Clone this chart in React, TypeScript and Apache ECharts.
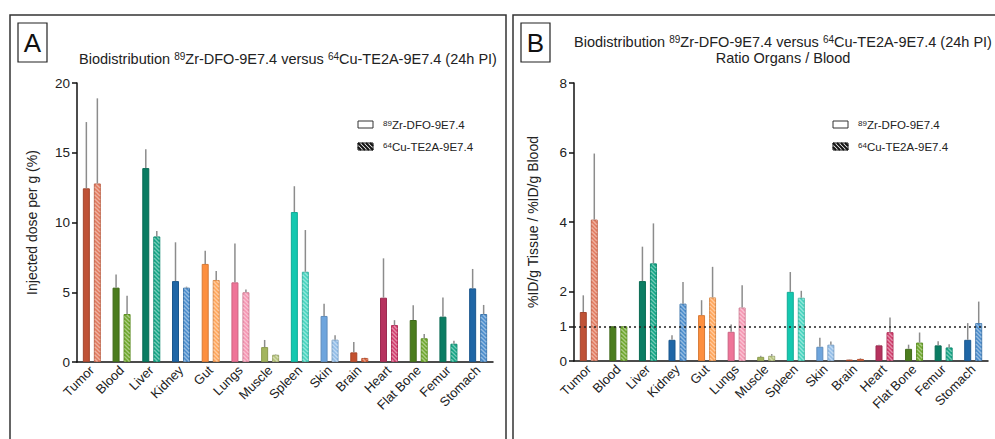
import React, { useEffect, useRef } from "react";
import * as echarts from "echarts";

const categories = ["Tumor", "Blood", "Liver", "Kidney", "Gut", "Lungs", "Muscle", "Spleen", "Skin", "Brain", "Heart", "Flat Bone", "Femur", "Stomach"];

// Panel A: injected dose per g (%)
const zrDose = [12.45, 5.33, 13.9, 5.8, 7.03, 5.71, 1.07, 10.75, 3.3, 0.69, 4.61, 3.01, 3.25, 5.28];
const zrDoseSd = [4.75, 0.95, 1.35, 2.78, 0.95, 2.79, 0.51, 1.85, 0.88, 0.74, 2.82, 1.05, 1.38, 1.39];
const cuDose = [12.8, 3.44, 9.0, 5.33, 5.88, 5.0, 0.52, 6.47, 1.6, 0.29, 2.65, 1.7, 1.31, 3.44];
const cuDoseSd = [6.1, 1.31, 0.39, 0.07, 0.64, 0.2, 0.03, 2.99, 0.31, 0.02, 0.35, 0.3, 0.22, 0.65];

// Panel B: ratio organs / blood
const zrRatio = [1.41, 1.0, 2.3, 0.61, 1.32, 0.84, 0.12, 1.99, 0.41, 0.04, 0.45, 0.35, 0.45, 0.61];
const zrRatioSd = [0.48, 0, 0.99, 0.13, 0.43, 0.21, 0.03, 0.57, 0.26, 0.01, 0.02, 0.12, 0.12, 0.48];
const cuRatio = [4.07, 1.0, 2.81, 1.65, 1.83, 1.54, 0.15, 1.82, 0.47, 0.06, 0.83, 0.53, 0.39, 1.09];
const cuRatioSd = [1.9, 0, 1.15, 0.62, 0.88, 0.64, 0.05, 0.2, 0.09, 0.02, 0.42, 0.29, 0.09, 0.62];

const yTicksA = [0, 5, 10, 15, 20];
const yTicksB = [0, 1, 2, 4, 6, 8];
const referenceRatio = 1;

const zrColors = ["#bf5236", "#4b7d1e", "#0b7d63", "#1f66a6", "#fd8f3f", "#ef7498", "#a3b55e", "#14c8b0", "#6ea5dd", "#c4512f", "#b6325e", "#4b7d1e", "#0b7d63", "#1f66a6"];
const cuColors = ["#e27a5e", "#6fa82d", "#14a585", "#4a8ccc", "#ffa55a", "#f596b2", "#b5c37a", "#45d4bf", "#92bde8", "#d8603a", "#d13d6d", "#6fa82d", "#14a585", "#4a8ccc"];

const FONT = '"Liberation Sans", Arial, sans-serif';
const TXT = "#222";
const BAR_W = 7;
const BAR_GAP = 4;
const STRIPE_STEP = 4;

function darken(hex: string, f: number) {
  const n = parseInt(hex.slice(1), 16);
  const r = Math.round(((n >> 16) & 255) * f);
  const g = Math.round(((n >> 8) & 255) * f);
  const b = Math.round((n & 255) * f);
  return `rgb(${r},${g},${b})`;
}

const TITLE_MAIN = "Biodistribution {s|89}Zr-DFO-9E7.4 versus {s|64}Cu-TE2A-9E7.4 (24h PI)";
const supRich = {
  s: { fontSize: 10, fontFamily: FONT, color: TXT, verticalAlign: "top", lineHeight: 13 },
};

export default function App() {
  const ref = useRef<HTMLDivElement>(null);
  useEffect(() => {
    if (!ref.current) return;
    const chart = echarts.init(ref.current, undefined, { renderer: "svg" });

    const barData = (vals: number[], colors: string[]) =>
      vals.map((v, i) => ({
        value: v,
        itemStyle: {
          color: colors[i],
          borderColor: darken(colors[i], 0.85),
          borderWidth: 1,
        },
      }));

    const errSeries = (vals: number[], sds: number[], axis: number, offset: number) => ({
      type: "custom",
      xAxisIndex: axis,
      yAxisIndex: axis,
      z: 5,
      silent: true,
      data: vals.map((v, i) => [i, v, sds[i]]),
      encode: { x: 0, y: 1 },
      renderItem: (params: any, api: any) => {
        const i = api.value(0);
        const v = api.value(1);
        const e = api.value(2);
        if (!(e > 0)) return { type: "group", children: [] };
        const p1 = api.coord([i, v]);
        const p2 = api.coord([i, v + e]);
        return {
          type: "line",
          shape: { x1: p1[0] + offset, y1: p1[1], x2: p2[0] + offset, y2: p2[1] },
          style: { stroke: "#8c8c8c", lineWidth: 1.5 },
        };
      },
    });

    // diagonal hatching ("\") drawn over the hatched bars
    const stripeSeries = (vals: number[], axis: number, offset: number) => ({
      type: "custom",
      xAxisIndex: axis,
      yAxisIndex: axis,
      z: 3,
      silent: true,
      data: vals.map((v, i) => [i, v]),
      encode: { x: 0, y: 1 },
      renderItem: (params: any, api: any) => {
        const i = api.value(0);
        const v = api.value(1);
        const top = api.coord([i, v]);
        const base = api.coord([i, 0]);
        const x0 = top[0] + offset - BAR_W / 2 + 0.8;
        const x1 = top[0] + offset + BAR_W / 2 - 0.8;
        const y0 = top[1] + 0.8;
        const y1 = base[1] - 0.5;
        const children: any[] = [];
        if (y1 - y0 < 1.5) return { type: "group", children };
        const cStart = Math.ceil((y0 - x1) / STRIPE_STEP) * STRIPE_STEP;
        for (let c = cStart; c <= y1 - x0; c += STRIPE_STEP) {
          const xs = Math.max(x0, y0 - c);
          const xe = Math.min(x1, y1 - c);
          if (xe - xs > 0.3) {
            children.push({
              type: "line",
              shape: { x1: xs, y1: xs + c, x2: xe, y2: xe + c },
              style: { stroke: "rgba(255,255,255,0.42)", lineWidth: 1.4, lineCap: "butt" },
            });
          }
        }
        return { type: "group", children };
      },
    });

    const off = (BAR_W + BAR_GAP) / 2;

    const xAxisBase = (gi: number) => ({
      type: "category",
      gridIndex: gi,
      data: categories,
      boundaryGap: true,
      axisLine: { lineStyle: { color: "#111", width: 1.5 } },
      axisTick: { alignWithLabel: true, length: 4, lineStyle: { color: "#111", width: 1.5 } },
      axisLabel: { interval: 0, rotate: 45, fontSize: 13, fontFamily: FONT, color: TXT, margin: 6 },
    });

    const legend = (x: number) => [
      {
        type: "rect",
        shape: { x, y: 121, width: 15, height: 7 },
        style: { fill: "#fff", stroke: "#333", lineWidth: 1 },
      },
      {
        type: "rect",
        shape: { x, y: 143, width: 15, height: 7 },
        style: { fill: "#fff", stroke: "#111", lineWidth: 1 },
      },
      ...[-4, 0, 4, 8, 12].map((d) => {
        const xs = Math.max(x, x + d);
        const xe = Math.min(x + 15, x + d + 7);
        return {
          type: "line",
          shape: { x1: xs, y1: 143 + (xs - x - d), x2: xe, y2: 143 + (xe - x - d) },
          style: { stroke: "#111", lineWidth: 2 },
        };
      }),
      {
        type: "text",
        x: x + 25,
        y: 125,
        style: {
          text: "{s|89}Zr-DFO-9E7.4",
          font: `11.5px ${FONT}`,
          fill: TXT,
          textVerticalAlign: "middle",
          rich: { s: { fontSize: 8, fontFamily: FONT, fill: TXT, verticalAlign: "top", lineHeight: 10 } },
        },
      },
      {
        type: "text",
        x: x + 25,
        y: 147,
        style: {
          text: "{s|64}Cu-TE2A-9E7.4",
          font: `11.5px ${FONT}`,
          fill: TXT,
          textVerticalAlign: "middle",
          rich: { s: { fontSize: 8, fontFamily: FONT, fill: TXT, verticalAlign: "top", lineHeight: 10 } },
        },
      },
    ];

    const titleStyle = { fontSize: 14.5, fontWeight: "normal", color: TXT, fontFamily: FONT, lineHeight: 16, rich: supRich };

    const option: any = {
      animation: false,
      backgroundColor: "#fff",
      textStyle: { fontFamily: FONT },
      title: [
        { text: TITLE_MAIN, left: 288, top: 51, padding: 0, textAlign: "center", textStyle: titleStyle },
        { text: TITLE_MAIN + "\nRatio Organs / Blood", left: 783, top: 34, padding: 0, textAlign: "center", textStyle: titleStyle },
      ],
      grid: [
        { left: 77, top: 83, width: 416, height: 279 },
        { left: 574, top: 83, width: 414, height: 278 },
      ],
      xAxis: [xAxisBase(0), xAxisBase(1)],
      yAxis: [
        {
          type: "value",
          gridIndex: 0,
          min: 0,
          max: 20,
          interval: 5,
          name: "Injected dose per g (%)",
          nameLocation: "middle",
          nameGap: 38,
          nameTextStyle: { fontSize: 14, color: TXT, fontFamily: FONT },
          axisLine: { show: true, lineStyle: { color: "#111", width: 1.5 } },
          axisTick: { show: true, length: 5, lineStyle: { color: "#111", width: 1.5 }, customValues: yTicksA },
          axisLabel: { fontSize: 13.5, color: TXT, fontFamily: FONT, margin: 7, customValues: yTicksA },
          splitLine: { show: false },
        },
        {
          type: "value",
          gridIndex: 1,
          min: 0,
          max: 8,
          interval: 1,
          name: "%ID/g Tissue / %ID/g Blood",
          nameLocation: "middle",
          nameGap: 34,
          nameTextStyle: { fontSize: 14, color: TXT, fontFamily: FONT },
          axisLine: { show: true, lineStyle: { color: "#111", width: 1.5 } },
          axisTick: { show: true, length: 5, lineStyle: { color: "#111", width: 1.5 }, customValues: yTicksB },
          axisLabel: { fontSize: 13.5, color: TXT, fontFamily: FONT, margin: 7, customValues: yTicksB },
          splitLine: { show: false },
        },
      ],
      series: [
        { name: "89Zr-DFO-9E7.4", type: "bar", xAxisIndex: 0, yAxisIndex: 0, barWidth: BAR_W, barGap: `${(BAR_GAP / BAR_W) * 100}%`, data: barData(zrDose, zrColors) },
        { name: "64Cu-TE2A-9E7.4", type: "bar", xAxisIndex: 0, yAxisIndex: 0, barWidth: BAR_W, barGap: `${(BAR_GAP / BAR_W) * 100}%`, data: barData(cuDose, cuColors) },
        stripeSeries(cuDose, 0, off),
        errSeries(zrDose, zrDoseSd, 0, -off),
        errSeries(cuDose, cuDoseSd, 0, off),
        {
          name: "89Zr-DFO-9E7.4 ratio", type: "bar", xAxisIndex: 1, yAxisIndex: 1, barWidth: BAR_W, barGap: `${(BAR_GAP / BAR_W) * 100}%`, data: barData(zrRatio, zrColors),
          markLine: {
            silent: true,
            symbol: "none",
            label: { show: false },
            lineStyle: { type: [2, 3], color: "#222", width: 1.5 },
            data: [{ yAxis: referenceRatio }],
            z: 10,
          },
        },
        { name: "64Cu-TE2A-9E7.4 ratio", type: "bar", xAxisIndex: 1, yAxisIndex: 1, barWidth: BAR_W, barGap: `${(BAR_GAP / BAR_W) * 100}%`, data: barData(cuRatio, cuColors) },
        stripeSeries(cuRatio, 1, off),
        errSeries(zrRatio, zrRatioSd, 1, -off),
        errSeries(cuRatio, cuRatioSd, 1, off),
      ],
      graphic: [
        { type: "rect", shape: { x: 10, y: 15, width: 496, height: 440 }, style: { fill: "none", stroke: "#333", lineWidth: 1.5 }, silent: true },
        { type: "rect", shape: { x: 513, y: 15, width: 500, height: 440 }, style: { fill: "none", stroke: "#333", lineWidth: 1.5 }, silent: true },
        { type: "rect", shape: { x: 18, y: 23, width: 29, height: 39 }, style: { fill: "none", stroke: "#222", lineWidth: 1.2 } },
        { type: "text", x: 32.5, y: 43, style: { text: "A", font: `26px ${FONT}`, fill: "#111", textAlign: "center", textVerticalAlign: "middle" } },
        { type: "rect", shape: { x: 521, y: 23, width: 29, height: 39 }, style: { fill: "none", stroke: "#222", lineWidth: 1.2 } },
        { type: "text", x: 535.5, y: 43, style: { text: "B", font: `26px ${FONT}`, fill: "#111", textAlign: "center", textVerticalAlign: "middle" } },
        ...legend(358),
        ...legend(833),
      ],
    };

    chart.setOption(option);
    return () => chart.dispose();
  }, []);

  return <div ref={ref} style={{ position: "absolute", left: 0, top: 0, width: 995, height: 439 }} />;
}
